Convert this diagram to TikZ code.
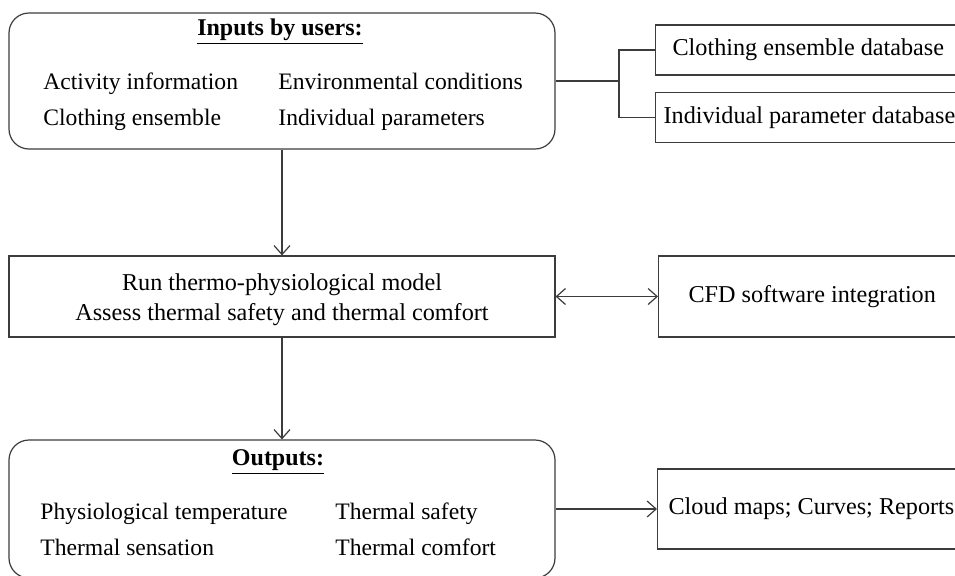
\documentclass[tikz,border=0pt]{standalone}
\usepackage{fontspec}
\setmainfont{Liberation Serif}
\usetikzlibrary{arrows.meta}
\definecolor{linegray}{RGB}{60,60,60}
\tikzstyle{roundbox}=[draw=linegray,rectangle,rounded corners=10pt,minimum width=273pt,line width=0.6pt]
\tikzstyle{plainbox}=[draw=linegray,rectangle,minimum width=273pt,line width=0.6pt]
\tikzstyle{sidebox}=[draw=linegray,rectangle,anchor=west,minimum height=25pt,text width=150pt,align=left,line width=0.6pt,font=\fontsize{12.1}{14}\selectfont,execute at begin node={\spaceskip=0pt\xspaceskip=0pt}]
\tikzstyle{item}=[anchor=base west,inner sep=0pt,font=\fontsize{11.8}{14}\selectfont]
\tikzstyle{head}=[inner sep=0pt,font=\fontsize{12}{14}\selectfont\bfseries]

\begin{document}
\begin{tikzpicture}[x=0.5pt,y=-0.5pt,>={Straight Barb[length=4.5pt,width=8pt]}]
    \clip (0,0) rectangle (955,575);
    \node[roundbox,minimum height=68pt] (inputs) at (282,81) {};
    \node[head] (inhead) at (280,32) {\underline{Inputs by users:}};
    \node[item] (act) at (43,89) {Activity information};
    \node[item] (env) at (278,89) {Environmental conditions};
    \node[item] (clo) at (43,125) {Clothing ensemble};
    \node[item] (ind) at (278,125) {Individual parameters};

    \node[sidebox,inner xsep=8.5pt] (clothdb) at (655,50) {Clothing ensemble database};
    \node[sidebox,inner xsep=4pt] (indivdb) at (655,117.5) {Individual parameter database};
    \coordinate (fork) at (619,81);

    \node[plainbox,minimum height=40.5pt] (model) at (282,296.5) {};
    \node[align=center,font=\fontsize{12.1}{15}\selectfont] (modeltxt) at (282,300)
        {Run thermo-physiological model\\Assess thermal safety and thermal comfort};
    \node[sidebox,minimum height=40.5pt,inner xsep=15pt] (cfd) at (658,296.5) {CFD software integration};

    \node[roundbox,minimum height=69pt] (outputs) at (282,509) {};
    \node[head] (outhead) at (278,462) {\underline{Outputs:}};
    \node[item] (phy) at (40,519) {Physiological temperature};
    \node[item] (saf) at (335,519) {Thermal safety};
    \node[item] (sen) at (40,555) {Thermal sensation};
    \node[item] (com) at (335,555) {Thermal comfort};
    \node[sidebox,minimum height=40pt,inner xsep=5.5pt] (cloud) at (657,509) {Cloud maps; Curves; Reports};

    \draw[draw=linegray,line width=0.6pt] (inputs.east) -- (fork);
    \draw[draw=linegray,line width=0.6pt] (clothdb.west) -| (fork) |- (indivdb.west);
    \foreach \from/\to in {inputs/model,model/outputs,outputs/cloud}
    \draw[draw=linegray,line width=0.6pt,->] (\from) -- (\to);
    \draw[draw=linegray,line width=0.6pt,<->] (model) -- (cfd);
\end{tikzpicture}
\end{document}
